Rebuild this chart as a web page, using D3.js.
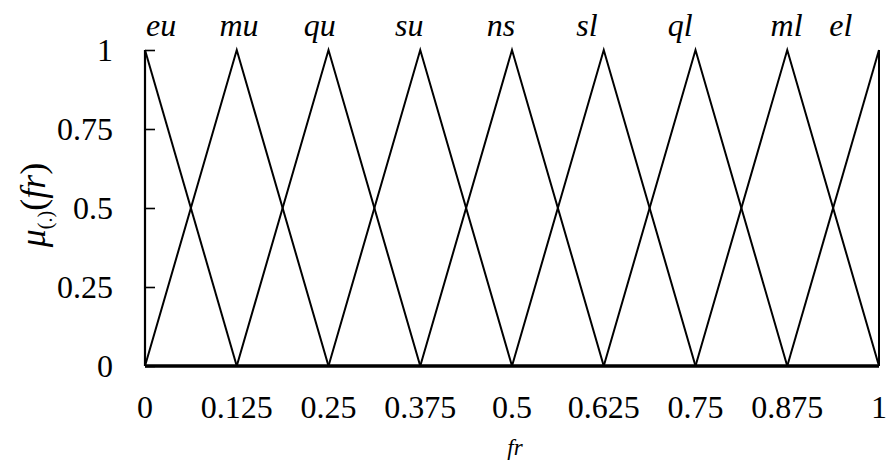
<!DOCTYPE html>
<html>
<head>
<meta charset="utf-8">
<script src="https://cdn.jsdelivr.net/npm/d3@7"></script>
<style>
  html, body { margin: 0; padding: 0; background: #fff; }
  svg { display: block; font-family: 'Liberation Serif'; }
  svg text, svg tspan { font-family: 'Liberation Serif' !important; }
</style>
</head>
<body>
<svg id="chart" width="886" height="461"></svg>
<script>
// Fuzzy set names for the fr variable
const setNames = ["eu", "mu", "qu", "su", "ns", "sl", "ql", "ml", "el"];
// Triangle vertices [left foot, peak, right foot] of each membership function
const triangles = [
  [0, 0, 0.125],
  [0, 0.125, 0.25],
  [0.125, 0.25, 0.375],
  [0.25, 0.375, 0.5],
  [0.375, 0.5, 0.625],
  [0.5, 0.625, 0.75],
  [0.625, 0.75, 0.875],
  [0.75, 0.875, 1],
  [0.875, 1, 1]
];
// Horizontal placement of each set name above the plot (in fr units)
const nameX = [0.022, 0.128, 0.238, 0.36, 0.485, 0.602, 0.729, 0.874, 0.948];
// Axis ticks
const xTicks = [0, 0.125, 0.25, 0.375, 0.5, 0.625, 0.75, 0.875, 1];
const xTickLabels = ["0", "0.125", "0.25", "0.375", "0.5", "0.625", "0.75", "0.875", "1"];
const yTicks = [0, 0.25, 0.5, 0.75, 1];
const yTickLabels = ["0", "0.25", "0.5", "0.75", "1"];

const FONT = "'Liberation Serif'";
const svg = d3.select("#chart");
const plotLeft = 145, plotRight = 879, plotTop = 50, plotBottom = 366;

const x = d3.scaleLinear().domain([0, 1]).range([plotLeft, plotRight]);
const y = d3.scaleLinear().domain([0, 1]).range([plotBottom, plotTop]);

// Membership function lines
const line = d3.line().x(d => x(d[0])).y(d => y(d[1]));
svg.append("g")
  .selectAll("path")
  .data(triangles)
  .join("path")
  .attr("d", t => line([[t[0], t[0] === t[1] ? 1 : 0], [t[1], 1], [t[2], t[2] === t[1] ? 1 : 0]]))
  .attr("fill", "none")
  .attr("stroke", "#000")
  .attr("stroke-width", 2);

// Right border
svg.append("line")
  .attr("x1", x(1)).attr("x2", x(1))
  .attr("y1", y(0)).attr("y2", y(1))
  .attr("stroke", "#000").attr("stroke-width", 2);

// Left axis with inward ticks
const yAxis = d3.axisRight(y)
  .tickValues(yTicks)
  .tickSize(10)
  .tickFormat("");
const gy = svg.append("g").attr("transform", `translate(${plotLeft},0)`).call(yAxis);
gy.attr("font-family", null);
gy.select(".domain").attr("stroke", "#000").attr("stroke-width", 2.2).attr("d", `M0,${y(0)}V${y(1)}`);
gy.selectAll(".tick line").attr("stroke", "#000").attr("stroke-width", 1.6);

// Bottom axis
const xAxis = d3.axisBottom(x).tickValues(xTicks).tickSize(0).tickFormat("");
const gx = svg.append("g").attr("transform", `translate(0,${plotBottom})`).call(xAxis);
gx.attr("font-family", null);
gx.select(".domain").attr("stroke", "#000").attr("stroke-width", 3.5).attr("d", `M${plotLeft},0H${plotRight}`);

// Y tick labels
yTicks.forEach((v, i) => {
  svg.append("text")
    .attr("x", 113)
    .attr("y", y(v) + 11)
    .attr("text-anchor", "end")
    .attr("font-size", 32)
    .style("font-family", FONT)
    .text(yTickLabels[i]);
});

// X tick labels
xTicks.forEach((v, i) => {
  svg.append("text")
    .attr("x", x(v))
    .attr("y", 418)
    .attr("text-anchor", "middle")
    .attr("font-size", 32)
    .style("font-family", FONT)
    .text(xTickLabels[i]);
});

// Set names above the peaks
setNames.forEach((name, i) => {
  svg.append("text")
    .attr("x", x(nameX[i]))
    .attr("y", 36)
    .attr("text-anchor", "middle")
    .attr("font-size", 32)
    .style("font-family", FONT)
    .style("font-style", "italic")
    .text(name);
});

// X axis title
svg.append("text")
  .attr("x", 515)
  .attr("y", 455)
  .attr("text-anchor", "middle")
  .attr("font-size", 23)
  .style("font-family", FONT)
  .style("font-style", "italic")
  .text("fr");

// Y axis title: μ(.)(fr)
const yt = svg.append("text")
  .attr("transform", "translate(45,205) rotate(-90)")
  .attr("text-anchor", "middle")
  .attr("font-size", 36)
  .style("font-family", FONT);
yt.append("tspan").style("font-style", "italic").text("μ");
yt.append("tspan").attr("font-size", 20).attr("dy", 7).text("(.)");
yt.append("tspan").attr("dy", -7).text("(");
yt.append("tspan").style("font-style", "italic").text("fr");
yt.append("tspan").text(")");
</script>
</body>
</html>
